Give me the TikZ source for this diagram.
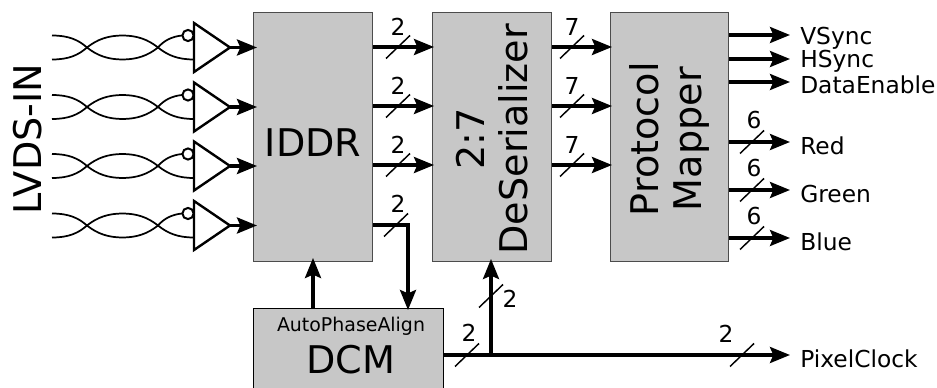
\documentclass[tikz,border=0pt]{standalone}
\usepackage{fontspec}
\setmainfont{DejaVu Sans}
\usetikzlibrary{arrows.meta,calc}
\tikzset{
  x=0.75pt,y=-0.75pt,
  blockbox/.style={draw=black!70,line width=1pt,fill=black!22,inner sep=0pt,anchor=north west},
  bigtext/.style={font=\fontsize{28.6}{32}\selectfont,inner sep=0pt,align=center},
  midtext/.style={font=\fontsize{17.5}{20}\selectfont,inner sep=0pt},
  smalltext/.style={font=\fontsize{14.2}{18}\selectfont,inner sep=0pt},
  sig/.style={line width=2.5pt,-{Stealth[length=15pt,width=12pt,inset=2.5pt]}},
  plain/.style={line width=2.5pt},
  slashmark/.style={line width=1.1pt},
  wire/.style={line width=1.3pt},
  buf/.style={line width=1.8pt,fill=white,line join=miter},
}
\newcommand{\busmark}[1]{\draw[slashmark] ($(#1)+(-12,11.5)$) -- ($(#1)+(12,-11.5)$);}
\begin{document}
\begin{tikzpicture}
\useasboundingbox (0,0) rectangle (937,388);
\clip (0,0) rectangle (937,388);
% blocks
\node[blockbox,minimum width=89.25pt,minimum height=186.75pt] (iddr) at (253,12) {};
\node[blockbox,minimum width=89.25pt,minimum height=186.75pt] (des) at (432,12) {};
\node[blockbox,minimum width=88.5pt,minimum height=186.75pt] (map) at (610,12) {};
\node[blockbox,draw=black,line width=0.8pt,minimum width=142.5pt,minimum height=63pt] (dcm) at (253,308) {};
\node[bigtext] (iddrt) at ($(iddr.center)+(0,5)$) {IDDR};
\node[bigtext,rotate=90] (dest) at ($(des.center)+(0,2)$) {2:7\\DeSerializer};
\node[bigtext,rotate=90] (mapt) at ($(map.center)+(0,2)$) {Protocol\\Mapper};
\node[smalltext] (apa) at (351,326) {AutoPhaseAlign};
\node[bigtext] (dcmt) at (351,360) {DCM};
\node[bigtext,rotate=90] (lvds) at (28,139) {LVDS-IN};
% LVDS pairs and receivers
\foreach \r/\y in {1/47.5,2/107,3/166,4/225.5}{
  \coordinate (a\r) at (52,\y-12);
  \coordinate (b\r) at (52,\y+12);
  \coordinate (c\r) at (87,\y);
  \coordinate (d\r) at (158,\y);
  \coordinate (e\r) at (182,\y-12);
  \coordinate (f\r) at (194,\y+12);
  \coordinate (o\r) at (230,\y);
  \coordinate (i\r) at (257,\y);
  \draw[wire] (a\r) .. controls (68,\y-12) and (78,\y-8) .. (c\r)
     .. controls (97,\y+8) and (108,\y+12) .. (122.5,\y+12)
     .. controls (137,\y+12) and (148,\y+8) .. (d\r)
     .. controls (164,\y-7) and (172,\y-11) .. (e\r);
  \draw[wire] (b\r) .. controls (68,\y+12) and (78,\y+8) .. (c\r)
     .. controls (97,\y-8) and (108,\y-12) .. (122.5,\y-12)
     .. controls (137,\y-12) and (148,\y-8) .. (d\r)
     .. controls (168,\y+8) and (178,\y+12) .. (f\r);
  \draw[buf] (194,\y-24.5) -- (o\r) -- (194,\y+24.5) -- cycle;
  \draw[wire,line width=1.5pt,fill=white] (188,\y-12) circle[radius=4.2pt];
  \draw[sig] (o\r) -- (i\r);
}
% IDDR to DeSerializer
\foreach \r/\y in {1/47,2/106,3/165}{
  \coordinate (p\r) at (iddr.east |- 0,\y);
  \coordinate (q\r) at (434,\y);
  \coordinate (s\r) at (398,\y);
  \draw[sig] (p\r) -- (q\r);
  \busmark{s\r}
  \node[midtext] (n\r) at (398,\y-20) {2};
  \coordinate (u\r) at (des.east |- 0,\y);
  \coordinate (v\r) at (612,\y);
  \coordinate (w\r) at (572,\y);
  \draw[sig] (u\r) -- (v\r);
  \busmark{w\r}
  \node[midtext] (m\r) at (572,\y-20) {7};
}
% mapper outputs
\foreach \nm/\y/\ty in {VSync/35/38,HSync/59/61,DataEnable/82/85}{
  \coordinate (x\nm) at (map.east |- 0,\y);
  \node[midtext,anchor=west] (l\nm) at (800,\ty) {\nm};
  \coordinate (t\nm) at (790,\y);
  \draw[sig] (x\nm) -- (t\nm);
}
\foreach \nm/\y in {Red/142,Green/190,Blue/238}{
  \coordinate (x\nm) at (map.east |- 0,\y);
  \node[midtext,anchor=west] (l\nm) at (800,\y+4) {\nm};
  \coordinate (t\nm) at (790,\y);
  \coordinate (s\nm) at (752,\y);
  \draw[sig] (x\nm) -- (t\nm);
  \busmark{s\nm}
  \node[midtext] (k\nm) at (754,\y-22) {6};
}
% IDDR bottom output to DCM
\coordinate (g0) at (iddr.east |- 0,225);
\coordinate (g1) at (408,225);
\coordinate (g2) at (408,310);
\coordinate (g3) at (396,225);
\draw[sig] (g0) -- (g1) -- (g2);
\busmark{g3}
\node[midtext] (g4) at (398,204) {2};
% DCM up to IDDR
\coordinate (h0) at (313,308);
\coordinate (h1) at (313,258);
\draw[sig] (h0) -- (h1);
% clock
\coordinate (j0) at (dcm.east |- 0,355);
\coordinate (j1) at (491,355);
\coordinate (j2) at (491,259);
\coordinate (j3) at (790,355);
\coordinate (j4) at (467,355);
\coordinate (j5) at (491,296);
\coordinate (j6) at (742,355);
\draw[plain,line width=3.2pt] (j0) -- (j1);
\draw[sig] (j1) -- (j2);
\draw[sig] (j1) -- (j3);
\busmark{j4}
\busmark{j5}
\busmark{j6}
\node[midtext] (c1) at (469,333) {2};
\node[midtext] (c2) at (510,299) {2};
\node[midtext] (c3) at (726,334) {2};
\node[midtext,anchor=west] (lpc) at (800,359) {PixelClock};
\end{tikzpicture}
\end{document}
